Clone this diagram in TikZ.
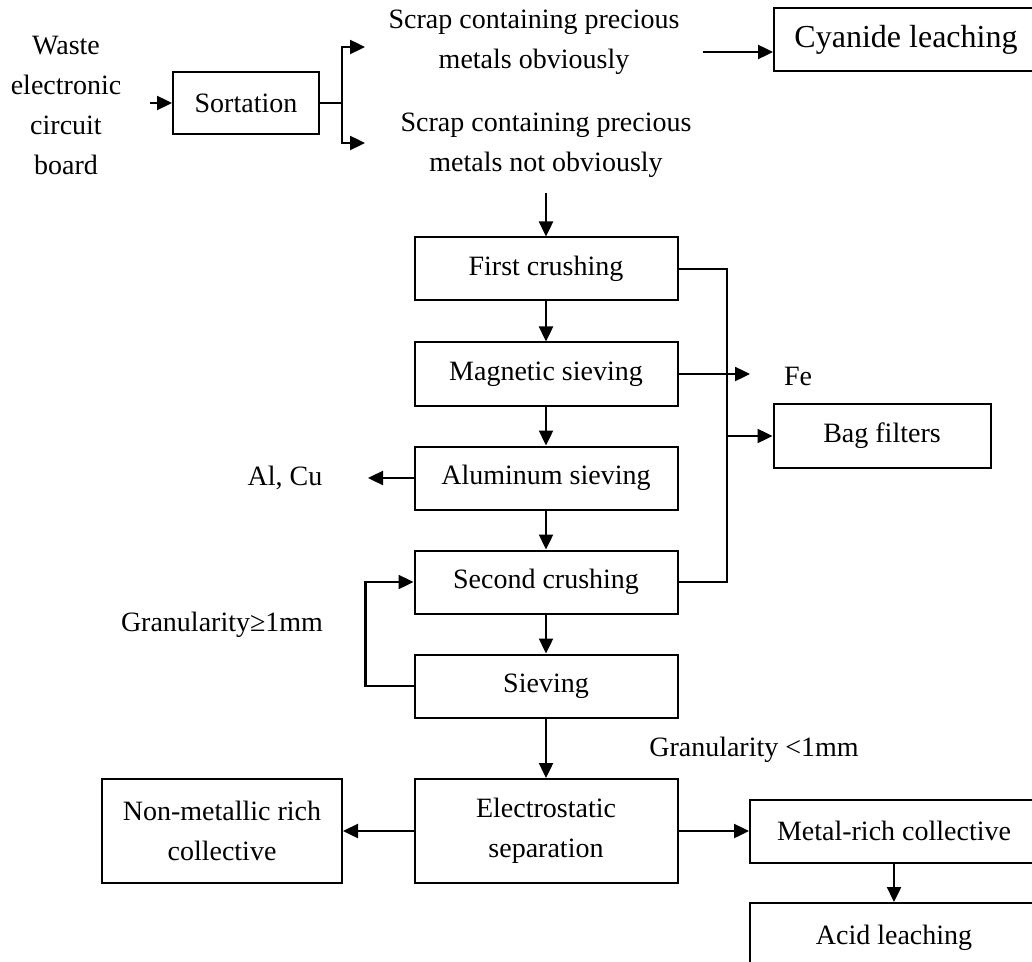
\documentclass[tikz,border=0pt]{standalone}
\usepackage{fontspec}
\setmainfont{Liberation Serif}
\usetikzlibrary{arrows.meta, positioning, calc}
\tikzstyle{proc} = [rectangle, minimum width=131.5pt, minimum height=31.5pt,
                    text centered, align=center, draw=black, line width=1pt, inner sep=2pt]
\tikzstyle{txt} = [align=center, inner sep=0pt]
\tikzstyle{arrow} = [-{Triangle[length=7.5pt, width=7pt]}, line width=1.2pt]
\tikzstyle{line} = [line width=1.2pt]

\begin{document}
\begin{tikzpicture}[x=0.5pt, y=-0.5pt, font=\fontsize{14}{20}\selectfont]
    \useasboundingbox (0,0) rectangle (1032,962);

    % input and sorting
    \node[txt] (board) at (66,105) {Waste\\electronic\\circuit\\board};
    \node[proc, minimum width=73pt, minimum height=31pt] (sort) at (246,103) {Sortation};
    \node[txt] (obv) at (534,42) {Scrap containing precious\\metals obviously};
    \node[txt] (nobv) at (546,145) {Scrap containing precious\\metals not obviously};
    \node[proc, minimum width=132pt, font=\fontsize{16}{20}\selectfont] (cyan) at (906,40) {Cyanide leaching};

    % main line
    \node[proc] (first) at (546,269) {First crushing};
    \node[proc] (mag) at (546,374) {Magnetic sieving};
    \node[proc] (alu) at (546,478) {Aluminum sieving};
    \node[proc] (second) at (546,582) {Second crushing};
    \node[proc] (siev) at (546,686) {Sieving};
    \node[proc, minimum height=52pt] (elec) at (546,831) {Electrostatic\\separation};
    \node[proc, minimum width=120pt, minimum height=52pt] (nonmet) at (222,831) {Non-metallic rich\\collective};
    \node[proc, minimum width=144pt] (metal) at (894,831) {Metal-rich collective};
    \node[proc, minimum width=144pt, minimum height=35pt] (acid) at (894,938) {Acid leaching};
    \node[proc, minimum width=108.5pt, minimum height=32pt] (bag) at (882,436) {Bag filters};

    % side labels
    \node[txt] (fe) at (798,376) {Fe};
    \node[txt] (alcu) at (285,478) {Al, Cu};
    \node[txt] (gbig) at (222,625) {Granularity≥1mm};
    \node[txt] (gsmall) at (754,750) {Granularity <1mm};

    \coordinate (in) at (150,103);
    \coordinate (br) at (342,103);
    \coordinate (tipa) at (365,47);
    \coordinate (tipb) at (365,143);
    \coordinate (cyin) at (703,52);
    \coordinate (top) at (546,193);
    \coordinate (bus) at (727,0);
    \coordinate (fetip) at (750,374);
    \coordinate (alout) at (368,478);

    \draw[arrow] (in) -- (sort.west);
    \draw[line] (sort.east) -- (br);
    \draw[arrow] (br) |- (tipa);
    \draw[arrow] (br) |- (tipb);
    \draw[arrow] (cyin) -- (cyin -| cyan.west);
    \draw[arrow] (top) -- (first.north);

    \foreach \a/\b in {first/mag, mag/alu, alu/second, second/siev, siev/elec}
        \draw[arrow] (\a.south) -- (\b.north);

    % dust collection
    \draw[line] (first.east) -- (first.east -| bus) -- (second.east -| bus) -- (second.east);
    \draw[arrow] (mag.east) -- (fetip);
    \draw[arrow] (bag.west -| bus) -- (bag.west);
    \draw[arrow] (alu.west) -- (alout);

    % return loop
    \draw[arrow] (siev.west) -- ++(-48,0) |- (second.west);

    \draw[arrow] (elec.west) -- (nonmet.east);
    \draw[arrow] (elec.east) -- (metal.west);
    \draw[arrow] (metal.south) -- (acid.north);
\end{tikzpicture}
\end{document}
